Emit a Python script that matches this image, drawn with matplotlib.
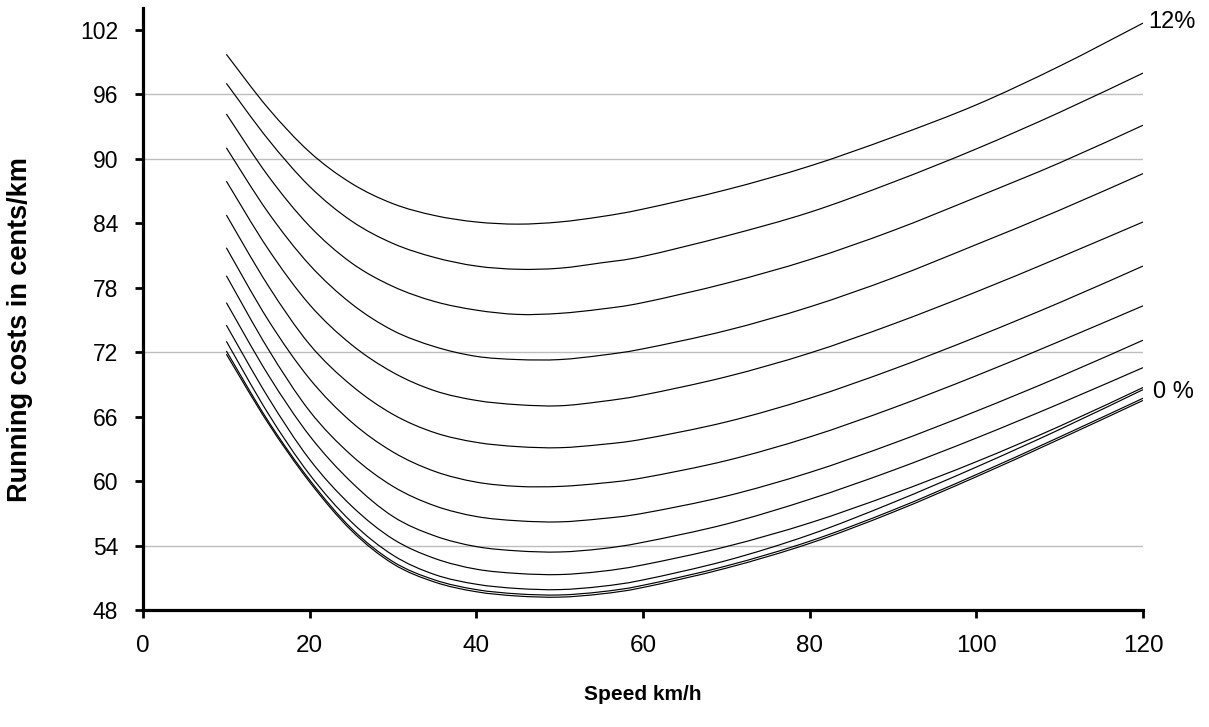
import numpy as np
import matplotlib.pyplot as plt
from matplotlib.path import Path
from matplotlib.patches import PathPatch

# Speed (km/h) at which the curves were read
speed = [10, 15, 20, 25, 30, 35, 40, 45, 50, 55, 60, 70, 80, 90, 100, 110, 120]

# Running costs (cents/km) per gradient
g0 = [71.8, 65.4, 59.9, 55.4, 52.3, 50.6, 49.7, 49.3, 49.2, 49.5, 50.1, 51.9, 54.2, 57.1, 60.4, 63.9, 67.5]
g1 = [72.1, 65.6, 60.1, 55.6, 52.5, 50.8, 49.9, 49.5, 49.4, 49.7, 50.3, 52.1, 54.4, 57.3, 60.6, 64.1, 67.7]
g2 = [73.0, 66.3, 60.6, 56.2, 53.1, 51.3, 50.4, 50.0, 49.9, 50.2, 50.8, 52.6, 55.0, 58.0, 61.3, 64.8, 68.5]
g3 = [74.5, 67.8, 62.0, 57.7, 54.6, 52.8, 51.8, 51.4, 51.3, 51.6, 52.2, 53.9, 56.1, 58.8, 61.8, 65.1, 68.7]
g4 = [76.6, 69.9, 64.2, 59.9, 56.7, 54.9, 53.9, 53.5, 53.4, 53.7, 54.3, 56.0, 58.3, 61.0, 64.0, 67.2, 70.55]
g5 = [79.1, 72.3, 66.5, 62.4, 59.5, 57.7, 56.7, 56.3, 56.2, 56.5, 57.0, 58.6, 60.8, 63.5, 66.5, 69.7, 73.1]
g6 = [81.7, 75.0, 69.5, 65.5, 62.7, 60.9, 59.9, 59.5, 59.5, 59.8, 60.3, 61.9, 64.1, 66.8, 69.8, 73.0, 76.3]
g7 = [84.75, 78.2, 72.7, 68.9, 66.2, 64.5, 63.6, 63.2, 63.1, 63.4, 63.9, 65.5, 67.7, 70.4, 73.4, 76.6, 80.0]
g8 = [87.9, 81.6, 76.4, 72.7, 70.1, 68.4, 67.5, 67.1, 67.0, 67.4, 68.0, 69.7, 71.9, 74.6, 77.6, 80.8, 84.1]
g9 = [91.0, 85.0, 80.1, 76.5, 74.0, 72.5, 71.6, 71.3, 71.3, 71.7, 72.3, 74.0, 76.2, 78.9, 82.0, 85.2, 88.6]
g10 = [94.15, 88.4, 83.7, 80.3, 78.1, 76.7, 75.9, 75.5, 75.6, 76.0, 76.6, 78.4, 80.6, 83.3, 86.4, 89.6, 93.1]
g11 = [97.0, 91.8, 87.4, 84.2, 82.1, 80.8, 80.0, 79.7, 79.8, 80.3, 80.9, 82.8, 85.0, 87.8, 90.9, 94.3, 97.95]
g12 = [99.7, 94.7, 90.6, 87.7, 85.8, 84.7, 84.1, 83.9, 84.1, 84.6, 85.3, 87.1, 89.3, 92.0, 95.0, 98.6, 102.6]
curves = [g0, g1, g2, g3, g4, g5, g6, g7, g8, g9, g10, g11, g12]

yticks = [48, 54, 60, 66, 72, 78, 84, 90, 96, 102]
xticks = [0, 20, 40, 60, 80, 100, 120]
grid_at = [54, 72, 90, 96]


# smoothed line like the spreadsheet one: bezier segments through the read points
def smoothPath(xs, ys):
    p = np.column_stack([xs, ys]).astype(float)
    p = np.vstack([p[0], p, p[-1]])
    verts = [p[1]]
    codes = [Path.MOVETO]
    for i in range(1, len(p) - 2):
        c1 = p[i] + (p[i + 1] - p[i - 1]) / 6.0
        c2 = p[i + 1] - (p[i + 2] - p[i]) / 6.0
        verts += [c1, c2, p[i + 1]]
        codes += [Path.CURVE4] * 3
    return Path(verts, codes)


plt.rcParams['font.family'] = ['Liberation Sans', 'DejaVu Sans']

fig = plt.figure(figsize=(12.09, 7.27), dpi=100)
ax = fig.add_axes([0.1183, 0.1609, 0.8271, 0.828])

for g in grid_at:
    ax.axhline(g, color='#bdbdbd', linewidth=1.0, zorder=1)

for c in curves:
    ax.add_patch(PathPatch(smoothPath(speed, c), facecolor='none', edgecolor='black',
                           linewidth=0.85, zorder=3))

ax.set_xlim(0, 120)
ax.set_ylim(48, 104)
ax.set_xticks(xticks)
ax.set_yticks(yticks)
ax.tick_params(axis='both', direction='out', length=6, width=2, colors='black')
ax.tick_params(axis='x', pad=12, labelsize=17.5)
ax.tick_params(axis='y', pad=12, labelsize=16.5)

for s in ['top', 'right']:
    ax.spines[s].set_visible(False)
for s in ['left', 'bottom']:
    ax.spines[s].set_linewidth(2.3)

ax.text(120.6, 102.75, '12%', fontsize=17, ha='left', va='center', clip_on=False)
ax.text(121.2, 68.3, '0 %', fontsize=17, ha='left', va='center', clip_on=False)

fig.text(643 / 1209, 1 - 695 / 727, 'Speed km/h', ha='center', va='center',
         fontsize=15, fontweight='bold')
fig.text(20 / 1209, 1 - 330 / 727, 'Running costs in cents/km', ha='center', va='center',
         rotation=90, fontsize=19.5, fontweight='bold')

fig.savefig('out.png', dpi=100)
